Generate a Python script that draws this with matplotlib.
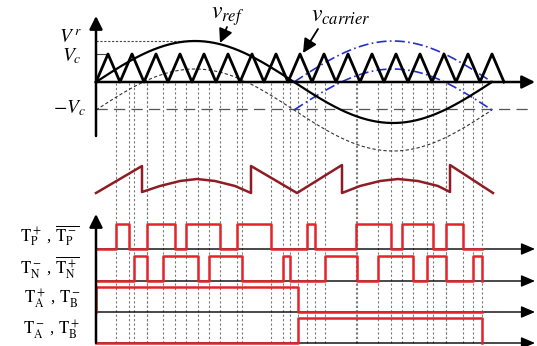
import numpy as np
import matplotlib.pyplot as plt

plt.rcParams['mathtext.fontset'] = 'stix'
plt.rcParams['font.family'] = ['Liberation Serif', 'DejaVu Serif']

# CONFIG (drawing units = pixels of the original sketch, time measured from the y axis)
X0 = 96            # time origin
T_END = 439        # end of the time arrows
Y_TOP = 82         # zero line of the modulation panel
Y_MID = 193        # base line of the middle waveform
ROW_BASE = [249, 281, 312, 343]
PULSE_H = 25

# DATA
T_fund = 396       # fundamental period of v_ref
T_carrier = 24     # carrier period
n_carrier = 17     # carrier periods drawn
Vr = 41            # amplitude of v_ref
Vc = 28            # amplitude of carrier

# middle waveform (time, value)
mid_t = [0, 46, 46, 64, 84, 101, 119, 139, 155, 155, 201, 246, 246, 264, 284, 302, 322, 342, 354, 354, 397]
mid_v = [0, 27, 1, 7, 12, 14, 12, 7, 0, 27, 0, 28, 0, 7, 12, 14, 12, 7, 1, 28, 0]

# gate signals: (on, off) times
pulses_P = [(20, 33), (51, 79), (90, 124), (141, 175), (211, 219), (260, 295), (306, 337), (350, 367)]
pulses_N = [(38, 51), (67, 102), (113, 146), (187, 194), (229, 261), (282, 317), (331, 350), (377, 386)]
t_switch_AB = 202
t_stop = 386

row_labels = [r'$\mathrm{T_P^+}$ , $\overline{\mathrm{T_P^-}}$',
              r'$\mathrm{T_N^-}$ , $\overline{\mathrm{T_N^+}}$',
              r'$\mathrm{T_A^+}$ , $\mathrm{T_B^-}$',
              r'$\mathrm{T_A^-}$ , $\mathrm{T_B^+}$']

red = '#e3242b'
dark_red = '#8e1c24'
blue = '#2630c8'

fig = plt.figure(figsize=(5.37, 3.46), dpi=100)
ax = fig.add_axes([0, 0, 1, 1])
ax.set_xlim(0, 537)
ax.set_ylim(346, 0)
ax.axis('off')


def step(edges, t_end):
    xs, ys = [0], [0]
    for a, b in edges:
        xs += [a, a, b, b]
        ys += [0, 1, 1, 0]
    xs.append(t_end)
    ys.append(0)
    return np.array(xs), np.array(ys)


###################
# switching instants
###################
edges = sorted([e for p in pulses_P + pulses_N for e in p] + [t_switch_AB])
for e in edges:
    ax.plot([X0 + e, X0 + e], [Y_TOP + 1, ROW_BASE[-1]], color='#7a7a7a', lw=0.8,
            ls=(0, (2, 2)), zorder=1)

###################
# modulation panel
###################
t = np.linspace(0, T_fund, 400)
vref = Vr * np.sin(2 * np.pi * t / T_fund)
ax.plot(X0 + t, Y_TOP - vref, color='k', lw=1.6, zorder=4)
ax.plot(X0 + t, Y_TOP - (vref - Vc), color='#333333', lw=0.8, ls=(0, (3, 2)), zorder=3)

t2 = t[t >= T_fund / 2]
vneg = -Vr * np.sin(2 * np.pi * t2 / T_fund)
ax.plot(X0 + t2, Y_TOP - vneg, color=blue, lw=1.2, ls=(0, (6, 2, 1, 2)), zorder=3)
ax.plot(X0 + t2, Y_TOP - (vneg - Vc), color=blue, lw=1.2, ls=(0, (6, 2, 1, 2)), zorder=3)

tri_t = np.arange(0, n_carrier * T_carrier + 1, T_carrier / 2)
tri_v = np.where(np.arange(len(tri_t)) % 2 == 1, Vc, 0)
ax.plot(X0 + tri_t, Y_TOP - tri_v, color='k', lw=2.0, zorder=5)

ax.plot([X0, X0 + T_fund / 4 + 10], [Y_TOP - Vr] * 2, color='#444444', lw=0.8, ls=(0, (2, 1.5)))
ax.plot([X0, X0 + T_carrier / 2], [Y_TOP - Vc] * 2, color='#444444', lw=0.8)
ax.plot([X0, 530], [Y_TOP + Vc - 1] * 2, color='#555555', lw=0.9, ls=(0, (9, 5)))

arrow = dict(arrowstyle='-|>,head_length=0.6,head_width=0.3', color='k', lw=1.8,
             mutation_scale=13, shrinkA=0, shrinkB=0)
ax.annotate('', xy=(X0 + T_END, Y_TOP), xytext=(X0, Y_TOP), arrowprops=arrow, zorder=6)
ax.annotate('', xy=(X0, 16), xytext=(X0, 136), arrowprops=arrow, zorder=6)

ax.text(82, 38, r'$V^{\,r}$', fontsize=14, ha='right', va='center')
ax.text(82, 56, r'$V_c$', fontsize=14, ha='right', va='center')
ax.text(86, 108, r'$-V_c$', fontsize=14, ha='right', va='center')

ax.text(211, 17, r'$v_{ref}$', fontsize=17, ha='left', va='center')
ax.text(311, 17, r'$v_{carrier}$', fontsize=17, ha='left', va='center')
small_arrow = dict(arrowstyle='-|>,head_length=0.7,head_width=0.35', color='k', lw=1.3,
                   mutation_scale=12, shrinkA=0, shrinkB=0)
ax.annotate('', xy=(220, 43), xytext=(227, 27), arrowprops=small_arrow)
ax.annotate('', xy=(303, 53), xytext=(318, 29), arrowprops=small_arrow)

###################
# middle waveform
###################
ax.plot(X0 + np.array(mid_t), Y_MID - np.array(mid_v), color=dark_red, lw=1.8, zorder=4)

###################
# gate signals
###################
rows = [step(pulses_P, t_stop), step(pulses_N, t_stop),
        step([(0, t_switch_AB)], t_stop), step([(t_switch_AB, t_stop)], t_stop)]
thin_arrow = dict(arrowstyle='-|>,head_length=0.7,head_width=0.3', color='k', lw=1.0,
                  mutation_scale=12, shrinkA=0, shrinkB=0)
for base, (xs, ys), lab in zip(ROW_BASE, rows, row_labels):
    ax.annotate('', xy=(X0 + T_END, base), xytext=(X0, base), arrowprops=thin_arrow, zorder=3)
    ax.plot(X0 + xs, base - PULSE_H * ys, color=red, lw=1.8, zorder=4)
    ax.text(80, base - 13, lab, fontsize=12, ha='right', va='center')

ax.annotate('', xy=(X0, 214), xytext=(X0, ROW_BASE[-1]), arrowprops=arrow, zorder=6)

fig.savefig('out.png', dpi=100)
